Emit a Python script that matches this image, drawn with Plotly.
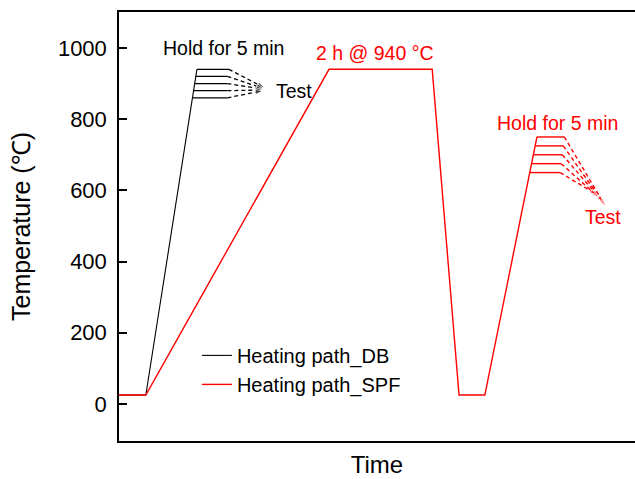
import plotly.graph_objects as go

# Time axis is schematic (arbitrary units 0-100); temperatures in °C
db_time = [0, 5.2, 15.1]
db_temp = [25, 25, 940]

spf_time = [0, 5.2, 40.7, 60.7, 65.9, 70.9, 81.0]
spf_temp = [25, 25, 940, 940, 25, 25, 750]

# Hold-and-test branches for the DB path
db_hold_temps = [940, 920, 900, 880, 860]
db_hold_start = [15.1, 14.9, 14.7, 14.5, 14.3]
db_hold_end = [21.3, 21.0, 21.0, 21.0, 21.0]
db_test_time = [28.2, 28.1, 28.0, 28.0, 27.9]
db_test_temp = [888, 886, 884, 882, 880]

# Hold-and-test branches for the SPF path
spf_hold_temps = [750, 725, 700, 675, 650]
spf_hold_start = [81.0, 80.7, 80.3, 80.0, 79.6]
spf_hold_end = [86.3, 86.1, 85.9, 85.7, 85.5]
spf_test_time = [94.3, 94.1, 93.8, 93.0, 92.6]
spf_test_temp = [555, 560, 568, 580, 588]

BLACK = "#000000"
RED = "#ff0000"
FONT = "Liberation Sans, Arial, sans-serif"

fig = go.Figure()

fig.add_trace(go.Scatter(x=db_time, y=db_temp, mode="lines",
                         line=dict(color=BLACK, width=1.1),
                         name="Heating path_DB", legendgroup="db"))

for t0, t1, t2, T, T2 in zip(db_hold_start, db_hold_end, db_test_time,
                             db_hold_temps, db_test_temp):
    fig.add_trace(go.Scatter(x=[t0, t1], y=[T, T], mode="lines",
                             line=dict(color=BLACK, width=1.2),
                             showlegend=False, hoverinfo="skip"))
    fig.add_trace(go.Scatter(x=[t1, t2], y=[T, T2], mode="lines+markers",
                             line=dict(color=BLACK, width=1.3, dash="4px,3px"),
                             marker=dict(symbol=["circle", "arrow"], size=[0, 8],
                                         angleref="previous", color=BLACK),
                             showlegend=False, hoverinfo="skip"))

fig.add_trace(go.Scatter(x=spf_time, y=spf_temp, mode="lines",
                         line=dict(color=RED, width=1.4),
                         name="Heating path_SPF", legendgroup="spf"))

for t0, t1, t2, T, T2 in zip(spf_hold_start, spf_hold_end, spf_test_time,
                             spf_hold_temps, spf_test_temp):
    fig.add_trace(go.Scatter(x=[t0, t1], y=[T, T], mode="lines",
                             line=dict(color=RED, width=1.4),
                             showlegend=False, hoverinfo="skip"))
    fig.add_trace(go.Scatter(x=[t1, t2], y=[T, T2], mode="lines+markers",
                             line=dict(color=RED, width=1.4, dash="4px,3px"),
                             marker=dict(symbol=["circle", "arrow"], size=[0, 7],
                                         angleref="previous", color=RED),
                             showlegend=False, hoverinfo="skip"))

notes = [
    dict(x=20.3, y=1000, text="Hold for 5 min", color=BLACK, xanchor="center"),
    dict(x=30.0, y=878, text="Test", color=BLACK, xanchor="left"),
    dict(x=49.6, y=985, text="2 h @ 940 °C", color=RED, xanchor="center"),
    dict(x=84.9, y=790, text="Hold for 5 min", color=RED, xanchor="center"),
    dict(x=93.8, y=525, text="Test", color=RED, xanchor="center"),
]
for n in notes:
    fig.add_annotation(x=n["x"], y=n["y"], text=n["text"], showarrow=False,
                       xanchor=n["xanchor"], yanchor="middle",
                       font=dict(family=FONT, size=19.5, color=n["color"]))

fig.update_layout(
    width=635, height=479,
    margin=dict(l=119, r=0, t=12, b=38),
    paper_bgcolor="white", plot_bgcolor="white",
    font=dict(family=FONT, color=BLACK),
    showlegend=True,
    legend=dict(x=0.151, y=0.245, xanchor="left", yanchor="top",
                bgcolor="rgba(0,0,0,0)", tracegroupgap=0,
                font=dict(family=FONT, size=20, color=BLACK)),
    xaxis=dict(range=[0, 100], showticklabels=False, ticks="",
               showgrid=False, zeroline=False, showline=True,
               linecolor=BLACK, linewidth=1.5, mirror=True,
               title=dict(text="Time", font=dict(family=FONT, size=24),
                          standoff=14)),
    yaxis=dict(range=[-104, 1101], tickvals=[0, 200, 400, 600, 800, 1000],
               ticks="inside", ticklen=8, tickwidth=1.5, tickcolor=BLACK,
               ticklabelstandoff=6,
               tickfont=dict(family=FONT, size=22),
               showgrid=False, zeroline=False, showline=True,
               linecolor=BLACK, linewidth=1.5, mirror=False,
               title=dict(text="Temperature (℃)", font=dict(family=FONT, size=25),
                          standoff=20)),
)

fig.write_html("out.html")
